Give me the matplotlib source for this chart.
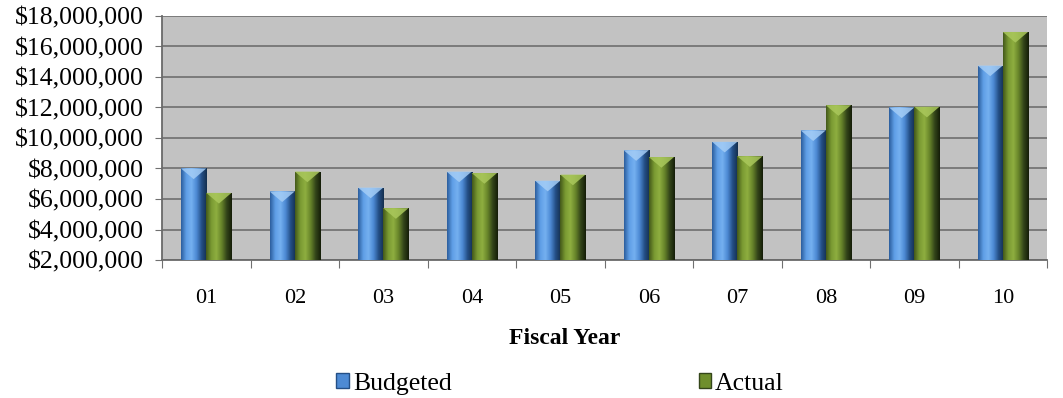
import matplotlib.pyplot as plt
import numpy as np
from matplotlib.colors import LinearSegmentedColormap
from matplotlib.patches import Polygon, Rectangle
from matplotlib.ticker import FuncFormatter

plt.rcParams['font.family'] = ['Liberation Serif', 'DejaVu Serif']

# budget vs actual per fiscal year
years = ['01', '02', '03', '04', '05', '06', '07', '08', '09', '10']
budgeted = [8.0e6, 6.5e6, 6.75e6, 7.8e6, 7.2e6, 9.2e6, 9.75e6, 10.5e6, 12.0e6, 14.75e6]
actual = [6.4e6, 7.8e6, 5.4e6, 7.7e6, 7.6e6, 8.75e6, 8.8e6, 12.15e6, 12.05e6, 16.95e6]

y_floor = 2e6
y_ceil = 18e6

# shading across the bar width: dark edge, light middle, dark side
blue_cmap = LinearSegmentedColormap.from_list(
    'b', ['#2c5f9e', '#5f9ee6', '#74b0f0', '#4d8ad4', '#244f86', '#14304f'])
green_cmap = LinearSegmentedColormap.from_list(
    'g', ['#44591a', '#7a9a32', '#8eae40', '#68852a', '#34461a', '#151d08'])
blue_top = '#a4cdf6'
green_top = '#aac85c'


def shaded_bars(ax, xs, vals, width, cmap, top_color):
    grad = np.linspace(0, 1, 64).reshape(1, -1)
    for x, v in zip(xs, vals):
        rect = Rectangle((x - width / 2, y_floor), width, v - y_floor,
                         facecolor='none', edgecolor='none', zorder=3)
        ax.add_patch(rect)
        im = ax.imshow(grad, cmap=cmap, aspect='auto', zorder=3,
                       extent=[x - width / 2, x + width / 2, y_floor, v])
        im.set_clip_path(rect)
        # bevelled top
        d = 0.7e6
        tri = Polygon([[x - width / 2, v], [x + width / 2, v], [x, v - d]],
                      closed=True, facecolor=top_color, edgecolor='none',
                      alpha=0.85, zorder=4)
        ax.add_patch(tri)


fig = plt.figure(figsize=(10.63, 3.98), dpi=100)
ax = fig.add_axes([0.1524, 0.3467, 0.8326, 0.6133])
ax.set_facecolor('#c2c2c2')

x = np.arange(len(years))
w = 0.285
shaded_bars(ax, x - w / 2, budgeted, w, blue_cmap, blue_top)
shaded_bars(ax, x + w / 2, actual, w, green_cmap, green_top)

ax.set_xlim(-0.5, len(years) - 0.5)
ax.set_ylim(y_floor, y_ceil)
ax.set_yticks(np.arange(y_floor, y_ceil + 1, 2e6))
ax.yaxis.set_major_formatter(FuncFormatter(lambda v, p: '${:,.0f}'.format(v)))
ax.yaxis.grid(True, color='#6e6e6e', linewidth=1.2, zorder=1)
ax.set_axisbelow(True)

# ticks between the year groups, labels in the middle
ax.set_xticks(np.arange(-0.5, len(years), 1.0))
ax.set_xticklabels([])
ax.set_xticks(x, minor=True)
ax.set_xticklabels(years, minor=True, fontsize=16)
ax.tick_params(axis='x', which='minor', length=0, pad=21)
ax.tick_params(axis='x', which='major', length=6, color='#707070')
ax.tick_params(axis='y', length=5, color='#707070', labelsize=18.5, pad=8)

for s in ['top', 'right']:
    ax.spines[s].set_visible(False)
ax.spines['left'].set_color('#6a6a6a')
ax.spines['bottom'].set_color('#6a6a6a')
ax.spines['left'].set_linewidth(1.3)
ax.spines['bottom'].set_linewidth(1.3)

ax.set_xlabel('Fiscal Year', fontsize=17, fontweight='bold')
ax.xaxis.set_label_coords(0.455, -0.28)

handles = [Rectangle((0, 0), 1, 1, facecolor='#4d8ad4', edgecolor='#244f86'),
           Rectangle((0, 0), 1, 1, facecolor='#6f8f2c', edgecolor='#34461a')]
fig.legend(handles, ['Budgeted', 'Actual'], loc='lower center',
           bbox_to_anchor=(0.527, -0.05), ncol=2, frameon=False,
           fontsize=18.5, handlelength=0.5, handleheight=0.5,
           handletextpad=0.15, columnspacing=9.6)

fig.savefig('out.png', dpi=100)
